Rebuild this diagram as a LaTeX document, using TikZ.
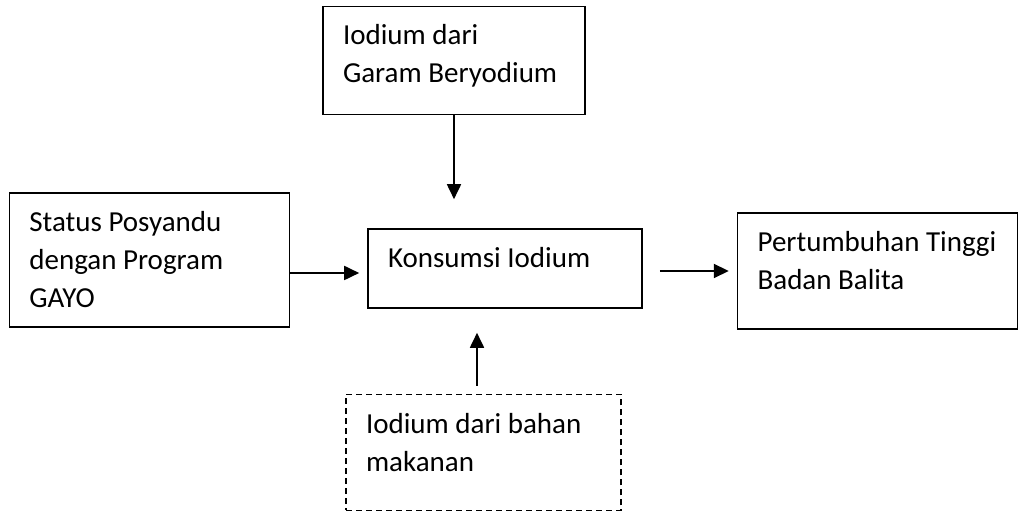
\documentclass[tikz,border=0pt]{standalone}
\usepackage{fontspec}
\setmainfont{Carlito}
\usetikzlibrary{arrows.meta, positioning}

% text set at the top left of a box of fixed size
\newcommand{\boxtext}[3]{\parbox[c][#1][t]{#2}{\raggedright\strut #3}}

\begin{document}
\begin{tikzpicture}[
        node distance=80pt,
        font=\fontsize{29}{38}\selectfont,
        block/.style={rectangle, draw, line width=1.6pt, inner xsep=20pt, inner ysep=12pt},
        dashblock/.style={block, line width=1.3pt, dash pattern=on 6pt off 4pt},
        line/.style={draw, line width=1.8pt, -{Triangle[length=15pt, width=14pt]}}
    ]
        \useasboundingbox (0,0) rectangle (1018pt,513pt);

        % Center
        \node [block] (konsumsi) at (505pt,244.5pt) {\boxtext{55pt}{234pt}{Konsumsi Iodium}};

        % Inputs
        \node [block, above=113pt of konsumsi, xshift=-51pt] (garam) {\boxtext{84pt}{222pt}{Iodium dari\\Garam Beryodium}};
        \node [block, left=77pt of konsumsi, yshift=8.5pt] (posyandu) {\boxtext{110pt}{240pt}{Status Posyandu\\dengan Program\\GAYO}};
        \node [dashblock, below=85pt of konsumsi, xshift=-21.5pt] (makanan) {\boxtext{92pt}{235pt}{Iodium dari bahan\\makanan}};

        % Output
        \node [block, right=94pt of konsumsi, yshift=-2.5pt] (tinggi) {\boxtext{92pt}{240pt}{\mbox{Pertumbuhan Tinggi}\\Badan Balita}};

        % Paths
        \path [line, shorten >=29pt] (garam.south) -- (garam.south |- konsumsi.north);
        \path [line, shorten >=8pt] ([yshift=-13pt]posyandu.east) -- ([yshift=-13pt]posyandu.east -| konsumsi.west);
        \path [line, shorten <=8pt, shorten >=24pt] ([xshift=-6.5pt]makanan.north) -- ([xshift=-6.5pt]makanan.north |- konsumsi.south);
        \path [line, shorten <=17pt, shorten >=8pt] (konsumsi.east |- tinggi.west) -- (tinggi.west);

    \end{tikzpicture}
\end{document}
